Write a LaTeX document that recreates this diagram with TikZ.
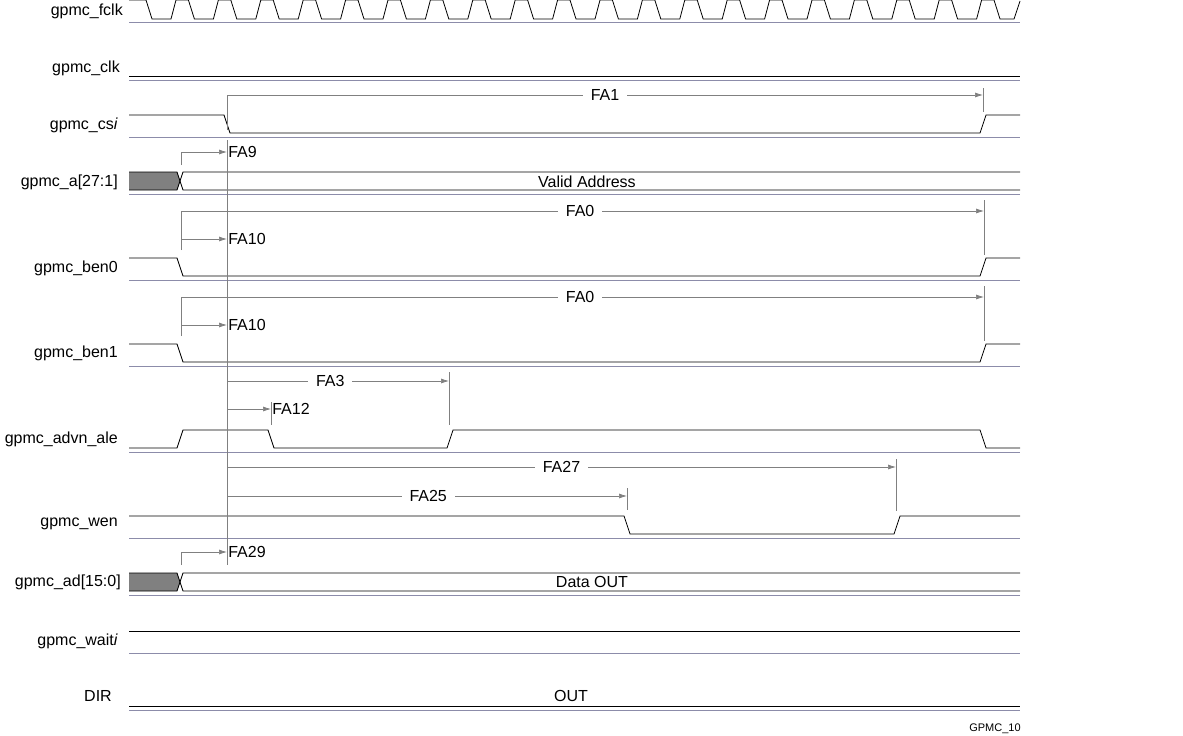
\documentclass[tikz,border=0pt]{standalone}
\usepackage{fontspec}
\setmainfont{Liberation Sans}
\usetikzlibrary{arrows.meta}
\begin{document}
\begin{tikzpicture}[x=1pt,y=-1pt,
  sig/.style={black,line width=0.8pt},
  sep/.style={draw=sepc,line width=0.7pt},
  ann/.style={draw=gray,line width=0.7pt},
  arr/.style={ann,-{Latex[length=8,width=5]}},
  lbl/.style={anchor=east,font=\fontsize{16}{18}\selectfont,inner sep=0},
  tx/.style={font=\fontsize{16}{18}\selectfont,inner xsep=8pt,inner ysep=1pt,fill=white},
  tr/.style={font=\fontsize{16}{18}\selectfont,inner sep=1pt,anchor=west}]
\definecolor{sepc}{RGB}{140,140,170}
\useasboundingbox (0,0) rectangle (1183,736);
% labels
\node[lbl] (l1) at (123,11) {gpmc\_fclk};
\node[lbl] (l2) at (120,68) {gpmc\_clk};
\node[lbl] (l3) at (118,125) {gpmc\_cs\textit{i}};
\node[lbl] (l4) at (118,182) {gpmc\_a[27:1]};
\node[lbl] (l5) at (118,268) {gpmc\_ben0};
\node[lbl] (l6) at (118,353) {gpmc\_ben1};
\node[lbl] (l7) at (118,439) {gpmc\_advn\_ale};
\node[lbl] (l8) at (118,524) {gpmc\_wen};
\node[lbl] (l9) at (121,582) {gpmc\_ad[15:0]};
\node[lbl] (l10) at (118,641) {gpmc\_wait\textit{i}};
\node[lbl] (l11) at (112,696) {DIR};
% separators
\foreach \y in {22,80,137,194,280,366,452,538,595,653,710}
  \draw[sep] (129,\y) -- (1020,\y);
% fclk
\draw[sig] (129,0) -- (146,0)
  \foreach \k in {0,...,19} { -- ({152+42.4*\k},19) -- ({171+42.4*\k},19) -- ({176+42.4*\k},0) -- ({188.4+42.4*\k},0) }
  -- (1000,19) -- (1014,19) -- (1020,1);
% clk
\draw[sig] (129,76) -- (1020,76);
% cs
\draw[sig] (129,115) -- (224,115) -- (230,133) -- (980,133) -- (986,115) -- (1020,115);
% address bus
\fill[gray] (129,172) -- (177,172) -- (180,181) -- (177,190) -- (129,190) -- cycle;
\draw[sig] (129,172) -- (177,172) -- (183,190) -- (1020,190);
\draw[sig] (129,190) -- (177,190) -- (183,172) -- (1020,172);
\node[font=\fontsize{16}{18}\selectfont] (va) at (587,182) {Valid Address};
% ben0
\draw[sig] (129,258) -- (177,258) -- (183,276) -- (980,276) -- (986,258) -- (1020,258);
% ben1
\draw[sig] (129,344) -- (177,344) -- (183,362) -- (980,362) -- (986,344) -- (1020,344);
% ale
\draw[sig] (129,448) -- (177,448) -- (183,430) -- (268,430) -- (274,448) -- (447,448) -- (453,430) -- (980,430) -- (986,448) -- (1020,448);
% wen
\draw[sig] (129,516) -- (624,516) -- (630,534) -- (894,534) -- (900,516) -- (1020,516);
% ad bus
\fill[gray] (129,573) -- (177,573) -- (180,582) -- (177,591) -- (129,591) -- cycle;
\draw[sig] (129,573) -- (177,573) -- (183,591) -- (1020,591);
\draw[sig] (129,591) -- (177,591) -- (183,573) -- (1020,573);
\node[font=\fontsize{16}{18}\selectfont] (dout) at (592,582) {Data OUT};
% wait
\draw[sig] (129,631) -- (1020,631);
% DIR
\draw[sig] (129,706) -- (1020,706);
\node[font=\fontsize{16}{18}\selectfont] (dout2) at (571,696) {OUT};
% annotations
\coordinate (c1a) at (227,130); \coordinate (c1b) at (227,95); \coordinate (c1c) at (983,95);
\draw[ann] (c1a) -- (c1b);
\draw[arr] (c1b) -- node[tx,pos=0.5] {FA1} (c1c);
\draw[ann] (983,88) -- (983,112);
\draw[ann] (227,140) -- (227,565);
% FA9
\draw[ann] (181,165) -- (181,152);
\draw[arr] (181,152) -- (227,152) node[tr] {FA9};
% ben0
\draw[ann] (181,250) -- (181,211);
\draw[arr] (181,211) -- node[tx,pos=0.497] {FA0} (984,211);
\draw[ann] (984,200) -- (984,255);
\draw[arr] (181,239) -- (227,239) node[tr] {FA10};
% ben1
\draw[ann] (181,336) -- (181,297);
\draw[arr] (181,297) -- node[tx,pos=0.497] {FA0} (984,297);
\draw[ann] (984,286) -- (984,341);
\draw[arr] (181,325) -- (227,325) node[tr] {FA10};
% FA3, FA12
\draw[arr] (227,381) -- node[tx,pos=0.465] {FA3} (449,381);
\draw[ann] (449,372) -- (449,425);
\draw[arr] (227,409) -- (271,409) node[tr] {FA12};
\draw[ann] (271,402) -- (271,425);
% FA27, FA25
\draw[arr] (227,467) -- node[tx,pos=0.5] {FA27} (896,467);
\draw[ann] (896,459) -- (896,511);
\draw[arr] (227,496) -- node[tx,pos=0.503] {FA25} (627,496);
\draw[ann] (627,488) -- (627,510);
% FA29
\draw[ann] (181,565) -- (181,552);
\draw[arr] (181,552) -- (227,552) node[tr] {FA29};
\node[font=\fontsize{11}{13}\selectfont] (g10) at (995,729) {GPMC\_10};
\end{tikzpicture}
\end{document}
